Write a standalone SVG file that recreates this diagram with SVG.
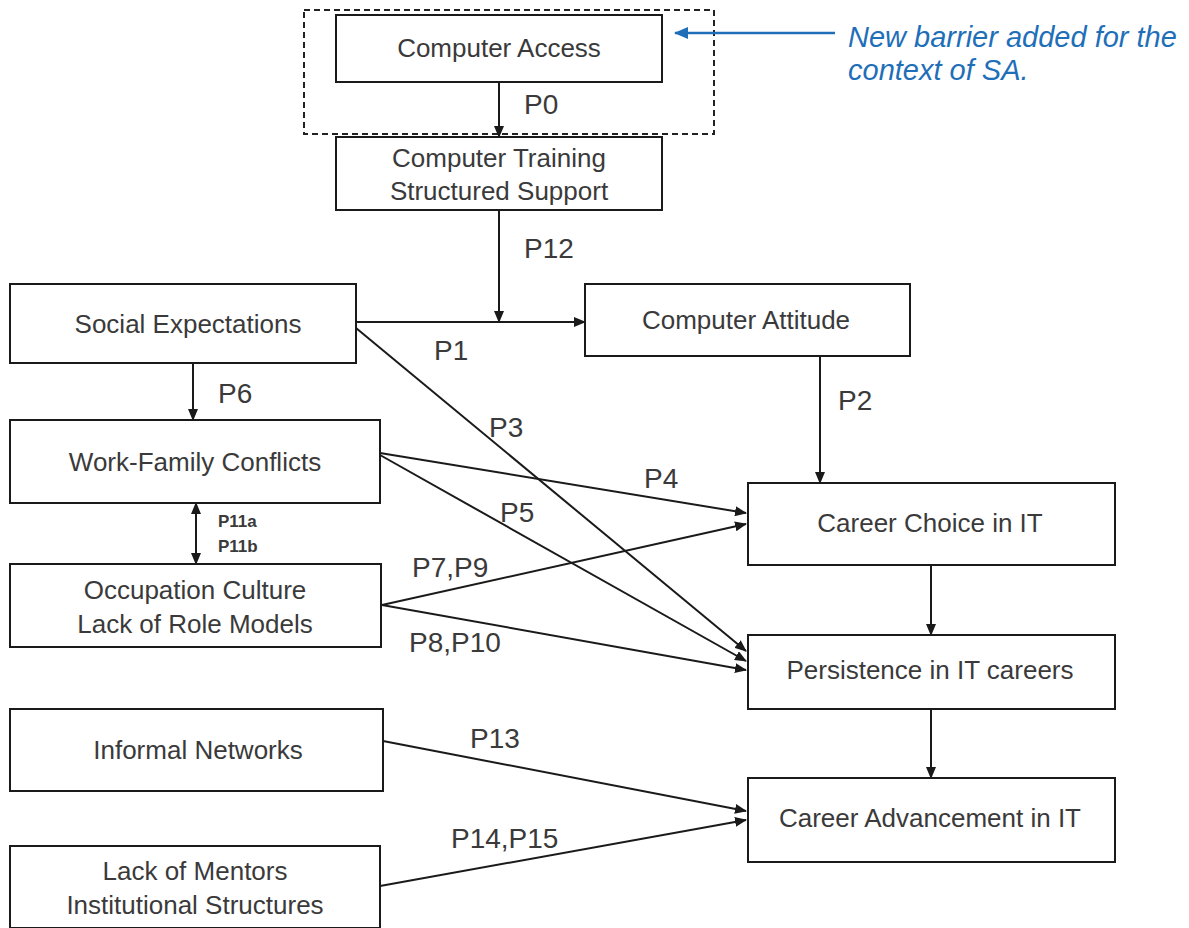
<svg xmlns="http://www.w3.org/2000/svg" width="1189" height="928" viewBox="0 0 1189 928">
<style>
.box{fill:#fff;stroke:#1a1a1a;stroke-width:2}
.t{font-family:"Liberation Sans",Arial,sans-serif;font-size:26px;fill:#3a3a3a;text-anchor:middle}
.lbl{font-family:"Liberation Sans",Arial,sans-serif;font-size:28px;fill:#3a3a3a}
.sm{font-family:"Liberation Sans",Arial,sans-serif;font-size:17px;font-weight:bold;fill:#3a3a3a}
.c{stroke:#1a1a1a;stroke-width:2;fill:none;marker-end:url(#ah)}
.note{font-family:"Liberation Sans",Arial,sans-serif;font-size:29px;font-style:italic;fill:#1f6fb8}
</style>
<defs>
<marker id="ah" markerUnits="userSpaceOnUse" markerWidth="12" markerHeight="10" refX="11" refY="5" orient="auto-start-reverse">
<path d="M0,0 L12,5 L0,10 Z" fill="#1a1a1a"/>
</marker>
<marker id="ahb" markerUnits="userSpaceOnUse" markerWidth="14" markerHeight="12" refX="13" refY="6" orient="auto-start-reverse">
<path d="M0,0 L14,6 L0,12 Z" fill="#1f6fb8"/>
</marker>
</defs>
<rect width="1189" height="928" fill="#fff"/>

<rect id="highlight" x="304" y="10" width="410" height="124" fill="none" stroke="#222" stroke-width="2" stroke-dasharray="6,4"/>

<g id="connectors">
<line class="c" x1="499" y1="82" x2="499" y2="137"/>
<line class="c" x1="499" y1="210" x2="499" y2="322"/>
<line class="c" x1="356" y1="322" x2="585" y2="322"/>
<line class="c" x1="820" y1="356" x2="820" y2="483"/>
<line class="c" x1="356" y1="328" x2="746" y2="651"/>
<line class="c" x1="193" y1="363" x2="193" y2="420"/>
<line class="c" x1="380" y1="453" x2="746" y2="513"/>
<line class="c" x1="380" y1="455" x2="746" y2="661"/>
<line class="c" x1="196" y1="503" x2="196" y2="564" style="marker-start:url(#ah)"/>
<line class="c" x1="382" y1="605" x2="746" y2="524"/>
<line class="c" x1="382" y1="605" x2="746" y2="670"/>
<line class="c" x1="931" y1="565" x2="931" y2="635"/>
<line class="c" x1="931" y1="709" x2="931" y2="778"/>
<line class="c" x1="383" y1="741" x2="746" y2="811"/>
<line class="c" x1="380" y1="886" x2="746" y2="820"/>
<line x1="835" y1="33" x2="675" y2="33" stroke="#1f6fb8" stroke-width="2.5" marker-end="url(#ahb)"/>
</g>

<g id="labels">
<text class="lbl" x="524" y="114">P0</text>
<text class="lbl" x="524" y="258">P12</text>
<text class="lbl" x="434" y="360">P1</text>
<text class="lbl" x="218" y="403">P6</text>
<text class="lbl" x="838" y="410">P2</text>
<text class="lbl" x="489" y="437">P3</text>
<text class="lbl" x="644" y="488">P4</text>
<text class="lbl" x="500" y="522">P5</text>
<text class="sm" x="218" y="527">P11a</text>
<text class="sm" x="218" y="552">P11b</text>
<text class="lbl" x="412" y="577">P7,P9</text>
<text class="lbl" x="409" y="652">P8,P10</text>
<text class="lbl" x="470" y="748">P13</text>
<text class="lbl" x="451" y="848">P14,P15</text>
<text class="note" x="848" y="47">New barrier added for the</text>
<text class="note" x="848" y="80">context of SA.</text>
</g>

<g id="computer-access"><rect class="box" x="336" y="15" width="326" height="67"/><text class="t" x="499" y="57">Computer Access</text></g>
<g id="computer-training"><rect class="box" x="336" y="137" width="326" height="73"/><text class="t" x="499" y="167">Computer Training</text><text class="t" x="499" y="200">Structured Support</text></g>
<g id="social-expectations"><rect class="box" x="10" y="284" width="346" height="79"/><text class="t" x="188" y="333">Social Expectations</text></g>
<g id="computer-attitude"><rect class="box" x="585" y="284" width="325" height="72"/><text class="t" x="746" y="329">Computer Attitude</text></g>
<g id="work-family"><rect class="box" x="10" y="420" width="370" height="83"/><text class="t" x="195" y="471">Work-Family Conflicts</text></g>
<g id="career-choice"><rect class="box" x="748" y="483" width="367" height="82"/><text class="t" x="930" y="532">Career Choice in IT</text></g>
<g id="occupation-culture"><rect class="box" x="10" y="564" width="371" height="83"/><text class="t" x="195" y="599">Occupation Culture</text><text class="t" x="195" y="633">Lack of Role Models</text></g>
<g id="persistence"><rect class="box" x="748" y="635" width="367" height="74"/><text class="t" x="930" y="679">Persistence in IT careers</text></g>
<g id="informal-networks"><rect class="box" x="10" y="709" width="373" height="82"/><text class="t" x="198" y="759">Informal Networks</text></g>
<g id="career-advancement"><rect class="box" x="748" y="778" width="367" height="84"/><text class="t" x="930" y="827">Career Advancement in IT</text></g>
<g id="lack-of-mentors"><rect class="box" x="10" y="846" width="370" height="82"/><text class="t" x="195" y="880">Lack of Mentors</text><text class="t" x="195" y="914">Institutional Structures</text></g>
</svg>
